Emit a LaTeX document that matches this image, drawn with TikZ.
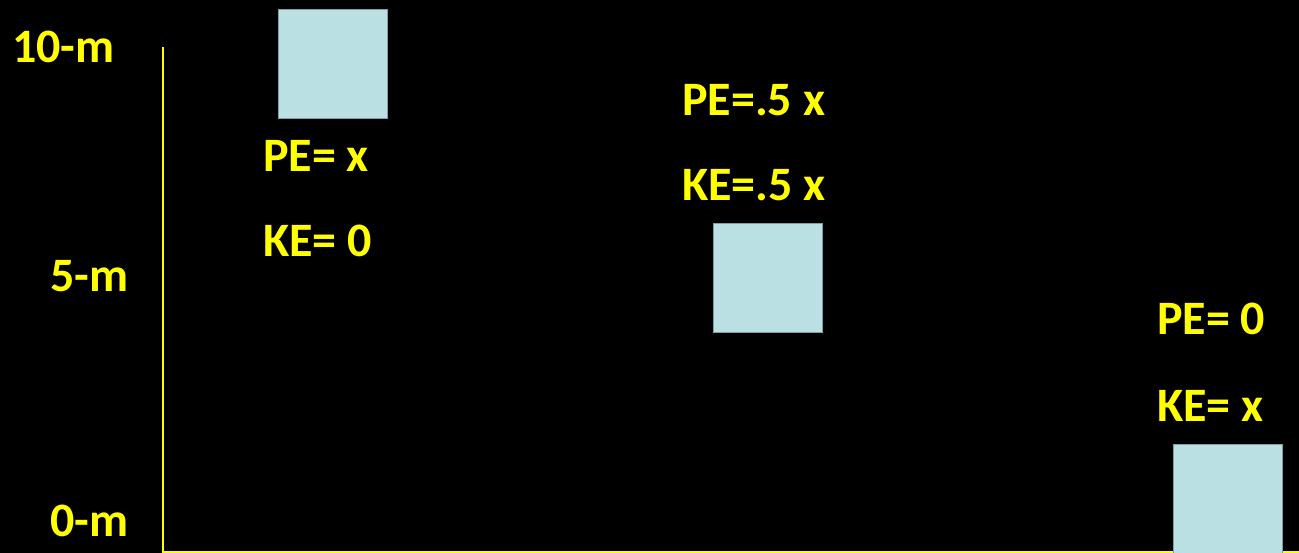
\documentclass[tikz,border=0pt]{standalone}
\usepackage{fontspec}
\setmainfont{Carlito}
\usetikzlibrary{positioning}

\definecolor{boxblue}{HTML}{BBE0E3}
\definecolor{boxedge}{HTML}{7F9FA3}
\definecolor{labelyellow}{HTML}{FFFF00}

\begin{document}
\begin{tikzpicture}[
    x=1pt, y=-1pt,
    font=\bfseries\fontsize{48}{52}\selectfont,
    block/.style={rectangle, draw=boxedge, line width=0.8pt, fill=boxblue, minimum width=109, minimum height=109, inner sep=0, anchor=north west},
    label/.style={text=labelyellow, inner sep=0, anchor=base west},
    axis/.style={draw=labelyellow, line width=1.6pt},
]
    % Background
    \fill[black] (0,0) rectangle (1299,553);
    \useasboundingbox (0,0) rectangle (1299,553);

    % Height axis
    \coordinate (top) at (163,47);
    \coordinate (origin) at (163,552);
    \coordinate (end) at (1299,552);
    \draw[axis] (top) -- (origin) -- (end);

    % Height marks
    \node[label] (ten) at (12,63) {10-m};
    \node[label] (five) at (50,292) {5-m};
    \node[label] (zero) at (50,536) {0-m};

    % Block at the top
    \node[block] (high) at (278,9) {};
    \node[label] (pehigh) at (263,172) {PE= x};
    \node[label] (kehigh) at (263,257) {KE= 0};

    % Block half way down
    \node[block] (mid) at (713,223) {};
    \node[label] (pemid) at (682,116) {PE=.5 x};
    \node[label] (kemid) at (682,201) {KE=.5 x};

    % Block on the ground
    \node[block] (low) at (1173,444) {};
    \node[label] (pelow) at (1157,335) {PE= 0};
    \node[label] (kelow) at (1157,421) {KE= x};

\end{tikzpicture}
\end{document}
